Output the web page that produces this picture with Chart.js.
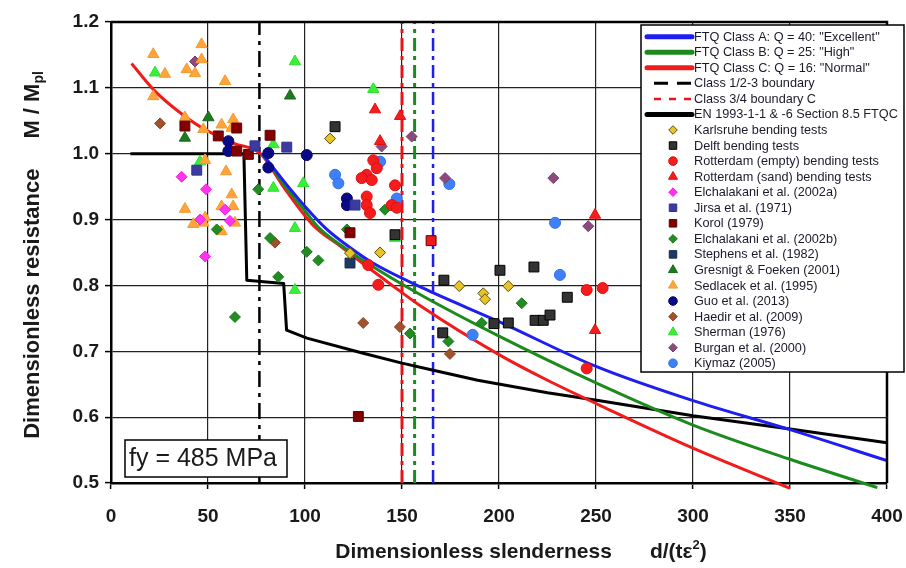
<!DOCTYPE html>
<html>
<head>
<meta charset="utf-8">
<script src="https://cdn.jsdelivr.net/npm/chart.js@4.4.1/dist/chart.umd.min.js"></script>
<style>
  html, body { margin: 0; padding: 0; background: #ffffff; }
  #wrap { width: 906px; height: 568px; }
</style>
</head>
<body>
<div id="wrap"><canvas id="chart" width="906" height="568"></canvas></div>
<script>
// ---- Design curves: slenderness d/(t eps^2) and dimensionless moment M/Mpl ----
const ftqAx = [78, 90, 100, 111, 123, 135, 160, 200, 250, 300, 350, 400];
const ftqAy = [1.0, 0.955, 0.920, 0.886, 0.858, 0.834, 0.797, 0.745, 0.677, 0.625, 0.581, 0.534];

const ftqBx = [78, 90, 100, 107, 120, 132, 160, 200, 250, 300, 350, 395];
const ftqBy = [1.0, 0.950, 0.913, 0.888, 0.858, 0.834, 0.785, 0.723, 0.652, 0.588, 0.536, 0.493];

const ftqCx = [10.6, 22, 34, 46, 63, 77, 90, 104, 118, 130, 145, 160, 200, 225, 252, 300, 350];
const ftqCy = [1.137, 1.097, 1.066, 1.041, 1.016, 1.0, 0.945, 0.892, 0.860, 0.833, 0.800, 0.768, 0.695, 0.656, 0.618, 0.553, 0.492];

const enX = [10, 68.5, 70, 89, 90.5, 101, 130, 150, 165, 189, 225, 252, 300, 350, 400];
const enY = [1.0, 1.0, 0.808, 0.803, 0.732, 0.720, 0.697, 0.682, 0.672, 0.656, 0.637, 0.625, 0.602, 0.582, 0.561];

// Class boundaries (vertical lines): 1/2-3, 3/4 C, 3/4 B, 3/4 A
const boundaryX = [76.5, 150, 156.5, 166];

// ---- Test results [slenderness, M/Mpl] ----
const karlsruhe = [[112.9,1.023],[123.2,0.849],[138.7,0.850],[179.5,0.799],[191.9,0.788],[192.8,0.779],[204.8,0.799]];
const delft = [[115.5,1.041],[146.4,0.877],[171.6,0.808],[200.5,0.823],[218,0.828],[235.2,0.782],[197.4,0.742],[204.8,0.743],[218.6,0.747],[222.8,0.747],[226.3,0.755],[171,0.728]];
const rotterdamEmpty = [[135.2,0.990],[137,0.978],[131.8,0.968],[129.2,0.963],[134.4,0.960],[146.4,0.952],[131.8,0.935],[131.8,0.922],[133.5,0.910],[144.7,0.922],[147.3,0.918],[132.6,0.831],[137.8,0.801],[245.2,0.793],[253.4,0.796],[245.2,0.674]];
const rotterdamSand = [[136.1,1.067],[149,1.057],[138.7,1.019],[249.5,0.907],[249.5,0.732]];
const elchalakaniA = [[36.4,0.965],[49,0.946],[58.8,0.915],[45.9,0.900],[61.3,0.898],[48.5,0.844]];
const jirsa = [[74.2,1.012],[90.6,1.010],[44.2,0.975],[125.8,0.922]];
const korol = [[38.1,1.042],[55.3,1.027],[64.8,1.039],[64.8,1.004],[70.8,0.999],[82,1.028],[123.2,0.880],[127.5,0.601]];
const elchalakaniB = [[75.9,0.946],[54.5,0.885],[82,0.872],[86.2,0.813],[63.9,0.752],[100.9,0.851],[106.9,0.838],[121.6,0.885],[141.2,0.915],[154.1,0.727],[211.7,0.773],[191.1,0.743],[173.9,0.715]];
const stephens = [[123.2,0.834]];
const gresnigt = [[50.2,1.055],[38.1,1.024],[92.3,1.088]];
const sedlacek = [[46.7,1.166],[21.8,1.151],[46.7,1.143],[27.8,1.121],[39,1.128],[43.3,1.122],[58.8,1.110],[21.8,1.087],[38.1,1.055],[47.6,1.037],[57,1.044],[63,1.052],[62.2,1.039],[48.5,0.990],[59.3,0.973],[62.2,0.938],[38.1,0.916],[57,0.920],[63,0.920],[48.5,0.903],[42.4,0.893],[47.6,0.895],[63.9,0.895],[57,0.882]];
const guo = [[60.5,1.019],[60.5,1.004],[81.1,1.001],[81.1,0.979],[100.9,0.998],[121.6,0.932],[121.6,0.922]];
const haedir = [[25.3,1.046],[84.5,0.865],[130,0.743],[148.9,0.737],[174.7,0.696]];
const sherman = [[22.7,1.123],[83.7,1.014],[45.9,0.988],[83.7,0.948],[135.2,1.098],[99.1,0.955],[94.8,0.887],[146.4,0.872],[94.8,0.793],[94.8,1.140]];
const burgan = [[43.3,1.140],[139.5,1.011],[155,1.026],[172.2,0.963],[228,0.963],[246,0.890]];
const kiymaz = [[138.7,0.988],[115.5,0.968],[117.2,0.955],[147.3,0.932],[174.4,0.954],[228.9,0.895],[231.4,0.816],[186.4,0.725]];
const extraSquare = [[165,0.868]];

const FONT = "'Liberation Sans', Arial, Helvetica, sans-serif";

const curve = (xs, ys) => xs.map((x, i) => ({ x: x, y: ys[i] }));
const pairs = arr => arr.map(p => ({ x: p[0], y: p[1] }));

// Line series shown in the key
const lineSeries = [
  { label: 'FTQ Class A: Q = 40: "Excellent"', data: curve(ftqAx, ftqAy), color: '#1e1ef0', width: 3, key: 'thick' },
  { label: 'FTQ Class B: Q = 25: "High"', data: curve(ftqBx, ftqBy), color: '#1d8a1d', width: 3, key: 'thick' },
  { label: 'FTQ Class C: Q = 16: "Normal"', data: curve(ftqCx, ftqCy), color: '#f01c1c', width: 3, key: 'thick' },
  { label: 'Class 1/2-3 boundary', xv: boundaryX[0], color: '#000000', width: 2.5, key: 'dashBlack', dash: [16, 6, 4, 6] },
  { label: 'Class 3/4 boundary C', xv: boundaryX[1], color: '#e8141c', width: 3, key: 'dashRed', dash: [13, 5, 4, 5] },
  { label: 'EN 1993-1-1 & -6 Section 8.5 FTQC', data: curve(enX, enY), color: '#000000', width: 3, key: 'thickBlack' }
];
// Further class 3/4 boundaries (B and A)
const extraBoundaries = [
  { xv: boundaryX[2], color: '#1d8a1d', width: 3, dash: [13, 5, 4, 5] },
  { xv: boundaryX[3], color: '#1e1ef0', width: 2.5, dash: [13, 5, 4, 5] }
];

// Marker series shown in the key
const markerSeries = [
  { label: 'Karlsruhe bending tests', data: karlsruhe, style: 'rectRot', fill: '#e6c42a', stroke: '#5e4e0a', r: 5.5 },
  { label: 'Delft bending tests', data: delft, style: 'rect', fill: '#333333', stroke: '#000000', r: 7 },
  { label: 'Rotterdam (empty) bending tests', data: rotterdamEmpty, style: 'circle', fill: '#f41c1c', stroke: '#e01010', r: 5.5 },
  { label: 'Rotterdam (sand) bending tests', data: rotterdamSand, style: 'triangle', fill: '#f41c1c', stroke: '#e01010', r: 6.5 },
  { label: 'Elchalakani et al. (2002a)', data: elchalakaniA, style: 'rectRot', fill: '#ff33f0', stroke: '#f020e0', r: 5.5 },
  { label: 'Jirsa et al. (1971)', data: jirsa, style: 'rect', fill: '#3c3ca0', stroke: '#303090', r: 7 },
  { label: 'Korol (1979)', data: korol, style: 'rect', fill: '#820000', stroke: '#600000', r: 7 },
  { label: 'Elchalakani et al. (2002b)', data: elchalakaniB, style: 'rectRot', fill: '#228b22', stroke: '#1a7a1a', r: 5.5 },
  { label: 'Stephens et al. (1982)', data: stephens, style: 'rect', fill: '#1e3a64', stroke: '#142a50', r: 7 },
  { label: 'Gresnigt & Foeken (2001)', data: gresnigt, style: 'triangle', fill: '#1f7a1f', stroke: '#186818', r: 6.5 },
  { label: 'Sedlacek et al. (1995)', data: sedlacek, style: 'triangle', fill: '#ffa43a', stroke: '#f39a30', r: 6.5 },
  { label: 'Guo et al. (2013)', data: guo, style: 'circle', fill: '#0a0a86', stroke: '#060670', r: 5.5 },
  { label: 'Haedir et al. (2009)', data: haedir, style: 'rectRot', fill: '#a0522d', stroke: '#8a4424', r: 5.5 },
  { label: 'Sherman (1976)', data: sherman, style: 'triangle', fill: '#38f038', stroke: '#28e028', r: 6.5 },
  { label: 'Burgan et al. (2000)', data: burgan, style: 'rectRot', fill: '#8e4a7e', stroke: '#7a3e6c', r: 5.5 },
  { label: 'Kiymaz (2005)', data: kiymaz, style: 'circle', fill: '#3f80f8', stroke: '#3070ea', r: 5.5 }
];

const datasets = [];
markerSeries.forEach(s => datasets.push({
  label: s.label, data: pairs(s.data), showLine: false, order: 0,
  pointStyle: s.style, pointRadius: s.r, pointHoverRadius: s.r,
  pointBackgroundColor: s.fill, pointBorderColor: s.stroke, pointBorderWidth: 1
}));
datasets.push({
  label: 'extra', data: pairs(extraSquare), showLine: false, order: 0,
  pointStyle: 'rect', pointRadius: 7, pointBackgroundColor: '#f01818',
  pointBorderColor: '#600000', pointBorderWidth: 1
});
const yMin = 0.5, yMax = 1.2;
lineSeries.concat(extraBoundaries).forEach(s => {
  const isBoundary = s.xv !== undefined;
  datasets.push({
    label: s.label || 'boundary',
    data: isBoundary ? [{ x: s.xv, y: yMin }, { x: s.xv, y: yMax }] : s.data,
    showLine: true, pointRadius: 0, pointHoverRadius: 0,
    borderColor: s.color, borderWidth: s.width, borderDash: s.dash || [],
    borderCapStyle: 'butt', borderJoinStyle: 'round',
    cubicInterpolationMode: (!isBoundary && s.key === 'thick') ? 'monotone' : 'default',
    tension: 0, fill: false, order: isBoundary ? 2 : 1,
    clip: { left: 0, top: 0, right: 2, bottom: 8 }
  });
});

// Outer frame of the plot area
const framePlugin = {
  id: 'frame',
  afterDatasetsDraw(chart) {
    const { ctx, chartArea: a } = chart;
    ctx.save();
    ctx.strokeStyle = '#000';
    ctx.lineWidth = 2.5;
    ctx.beginPath();
    ctx.moveTo(a.left, a.top); ctx.lineTo(a.right, a.top); ctx.lineTo(a.right, a.bottom);
    ctx.stroke();
    ctx.restore();
  }
};

function drawMarker(ctx, style, x, y, r) {
  ctx.beginPath();
  if (style === 'circle') {
    ctx.arc(x, y, r, 0, Math.PI * 2);
  } else if (style === 'rect') {
    const h = r * Math.SQRT1_2;
    ctx.rect(x - h, y - h, 2 * h, 2 * h);
  } else if (style === 'rectRot') {
    ctx.moveTo(x, y - r); ctx.lineTo(x + r, y); ctx.lineTo(x, y + r); ctx.lineTo(x - r, y);
    ctx.closePath();
  } else if (style === 'triangle') {
    for (let k = 0; k < 3; k++) {
      const ang = k * 2 * Math.PI / 3;
      const px = x + Math.sin(ang) * r, py = y - Math.cos(ang) * r;
      if (k === 0) ctx.moveTo(px, py); else ctx.lineTo(px, py);
    }
    ctx.closePath();
  }
  ctx.fill();
  ctx.stroke();
}

// Key box drawn inside the plot, top right
const keyPlugin = {
  id: 'keyBox',
  afterDraw(chart) {
    const ctx = chart.ctx;
    const box = { x: 641, y: 25, w: 263, h: 347 };
    const row0 = 36.7, rowH = 15.55;
    ctx.save();
    ctx.fillStyle = '#ffffff';
    ctx.fillRect(box.x, box.y, box.w, box.h);
    ctx.strokeStyle = '#000';
    ctx.lineWidth = 1.5;
    ctx.strokeRect(box.x, box.y, box.w, box.h);
    ctx.font = '12.7px ' + FONT;
    ctx.textBaseline = 'middle';
    ctx.textAlign = 'left';
    const textX = 694;
    lineSeries.forEach((s, i) => {
      const y = row0 + i * rowH;
      ctx.save();
      ctx.strokeStyle = s.color;
      if (s.key === 'thick' || s.key === 'thickBlack') {
        ctx.lineWidth = 5; ctx.lineCap = 'round'; ctx.setLineDash([]);
        ctx.beginPath(); ctx.moveTo(647, y); ctx.lineTo(692, y); ctx.stroke();
      } else if (s.key === 'dashBlack') {
        ctx.lineWidth = 3; ctx.setLineDash([14, 9]);
        ctx.beginPath(); ctx.moveTo(654, y); ctx.lineTo(693, y); ctx.stroke();
      } else {
        ctx.lineWidth = 2.5; ctx.setLineDash([7, 8]);
        ctx.beginPath(); ctx.moveTo(654, y); ctx.lineTo(693, y); ctx.stroke();
      }
      ctx.restore();
      ctx.fillStyle = '#1a1a2a';
      ctx.fillText(s.label, textX, y + 0.5);
    });
    markerSeries.forEach((s, j) => {
      const y = row0 + (j + lineSeries.length) * rowH;
      ctx.fillStyle = s.fill;
      ctx.strokeStyle = s.stroke;
      ctx.lineWidth = 1;
      const rr = s.style === 'rect' ? 5.3 : (s.style === 'triangle' ? 5.2 : 4.3);
      drawMarker(ctx, s.style, 673, y, rr);
      ctx.fillStyle = '#1a1a2a';
      ctx.fillText(s.label, textX, y + 0.5);
    });
    ctx.restore();
  }
};

// Axis titles and the yield-strength note
const textPlugin = {
  id: 'texts',
  afterDraw(chart) {
    const ctx = chart.ctx;
    ctx.save();
    ctx.fillStyle = '#1a1a1a';
    ctx.textBaseline = 'alphabetic';
    ctx.textAlign = 'left';

    // y-axis title with subscript
    ctx.save();
    ctx.translate(39, 255);
    ctx.rotate(-Math.PI / 2);
    const mainFont = 'bold 22px ' + FONT, subFont = 'bold 14px ' + FONT;
    ctx.font = mainFont;
    const partA = 'Dimensionless resistance', partB = 'M / M';
    const gapY = 30;
    const wA = ctx.measureText(partA).width, wB = ctx.measureText(partB).width;
    ctx.font = subFont;
    const wSub = ctx.measureText('pl').width;
    const total = wA + gapY + wB + wSub;
    let sx = -total / 2;
    ctx.font = mainFont;
    ctx.fillText(partA, sx, 0);
    sx += wA + gapY;
    ctx.fillText(partB, sx, 0);
    sx += wB;
    ctx.font = subFont;
    ctx.fillText('pl', sx, 4);
    ctx.restore();

    // x-axis title with superscript
    const xf = 'bold 21px ' + FONT, supF = 'bold 13px ' + FONT;
    ctx.font = xf;
    const t1 = 'Dimensionless slenderness', t2 = 'd/(t\u03b5', t3 = ')';
    const gapX = 38;
    const w1 = ctx.measureText(t1).width, w2 = ctx.measureText(t2).width, w3 = ctx.measureText(t3).width;
    ctx.font = supF;
    const wSup = ctx.measureText('2').width;
    const tot = w1 + gapX + w2 + wSup + w3;
    let x0 = 521 - tot / 2;
    const by = 558;
    ctx.font = xf;
    ctx.fillText(t1, x0, by);
    x0 += w1 + gapX;
    ctx.fillText(t2, x0, by);
    x0 += w2;
    ctx.font = supF;
    ctx.fillText('2', x0, by - 9);
    x0 += wSup;
    ctx.font = xf;
    ctx.fillText(t3, x0, by);

    // fy note
    ctx.fillStyle = '#ffffff';
    ctx.fillRect(125, 440, 162, 37);
    ctx.strokeStyle = '#000';
    ctx.lineWidth = 1.5;
    ctx.strokeRect(125, 440, 162, 37);
    ctx.fillStyle = '#1a1a1a';
    ctx.font = '25px ' + FONT;
    ctx.textBaseline = 'middle';
    ctx.fillText('fy = 485 MPa', 129, 459);
    ctx.restore();
  }
};

const tickFont = { family: FONT, size: 19, weight: 'bold' };

new Chart(document.getElementById('chart').getContext('2d'), {
  type: 'scatter',
  data: { datasets: datasets },
  options: {
    responsive: false,
    animation: false,
    devicePixelRatio: 1,
    layout: { padding: { top: 22, right: 19, left: 0, bottom: 0 } },
    plugins: { legend: { display: false }, tooltip: { enabled: false } },
    scales: {
      x: {
        type: 'linear', min: 0, max: 400,
        ticks: { stepSize: 50, font: tickFont, color: '#1a1a1a', padding: 16, maxRotation: 0 },
        grid: { color: '#222222', lineWidth: 1.2, tickLength: 6, tickColor: '#000', tickWidth: 1.5 },
        border: { color: '#000', width: 2.5 },
        afterFit(s) { s.height = 85; s.paddingLeft = 0; s.paddingRight = 0; }
      },
      y: {
        type: 'linear', min: yMin, max: yMax,
        ticks: { stepSize: 0.1, font: tickFont, color: '#1a1a1a', padding: 6, callback: v => v.toFixed(1) },
        grid: { color: '#222222', lineWidth: 1.2, tickLength: 6, tickColor: '#000', tickWidth: 1.5 },
        border: { color: '#000', width: 2.5 },
        afterFit(s) { s.width = 111; s.paddingTop = 0; s.paddingBottom = 0; }
      }
    }
  },
  plugins: [framePlugin, keyPlugin, textPlugin]
});
</script>
</body>
</html>
